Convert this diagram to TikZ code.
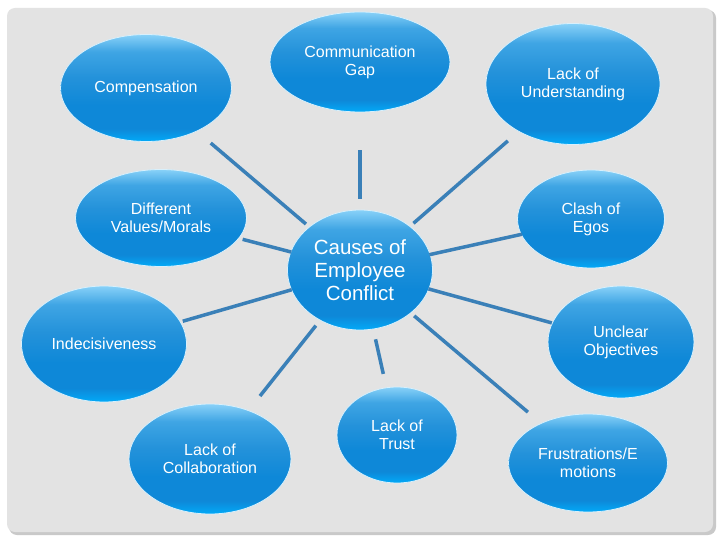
\documentclass[tikz,border=0pt]{standalone}
\usepackage{fontspec}
\setmainfont{Liberation Sans}
\usetikzlibrary{shapes.geometric}
\definecolor{bgc}{HTML}{E3E3E3}
\definecolor{shadc}{HTML}{C9C9C9}
\definecolor{linec}{HTML}{3A80B8}
\definecolor{topc}{HTML}{88D1F8}
\definecolor{upc}{HTML}{3FA5E4}
\definecolor{midc}{HTML}{2492DA}
\definecolor{lowc}{HTML}{0E88D8}
\definecolor{botc}{HTML}{02AAF8}
\definecolor{rimc}{HTML}{D8F0FC}
\pgfdeclareverticalshading{bubbleshade}{100bp}{color(0bp)=(botc); color(25bp)=(botc); color(31bp)=(lowc); color(42bp)=(lowc); color(55bp)=(midc); color(67bp)=(upc); color(75bp)=(topc); color(100bp)=(topc)}
\tikzset{
  bubble/.style={ellipse, shading=bubbleshade, draw=rimc, line width=0.8pt, inner sep=0pt,
    text=white, align=center, font=\fontsize{16}{18}\selectfont},
  hub/.style={bubble, font=\fontsize{20.5}{23}\selectfont},
  conn/.style={draw=linec, line width=3.5pt, shorten <=71pt}
}
\begin{document}
\begin{tikzpicture}[x=1pt,y=-1pt]
\useasboundingbox (0,0) rectangle (720,540);
\fill[white] (0,0) rectangle (720,540);
\fill[shadc, rounded corners=8pt] (9,10) rectangle (716,535);
\fill[bgc, rounded corners=8pt] (7,8) rectangle (713,532);

\node[hub, minimum width=145pt, minimum height=120pt] (c) at (360,270) {Causes of\\Employee\\Conflict};

\node[bubble, minimum width=171pt, minimum height=107pt] (comp) at (146,88) {Compensation};
\node[bubble, minimum width=180pt, minimum height=100pt] (gap) at (360,62) {Communication\\Gap};
\node[bubble, minimum width=174pt, minimum height=121pt] (lou) at (573,84) {Lack of\\Understanding};
\node[bubble, minimum width=171pt, minimum height=97pt] (dv) at (161,218) {Different\\Values/Morals};
\node[bubble, minimum width=147pt, minimum height=98pt] (ego) at (591,219) {Clash of\\Egos};
\node[bubble, minimum width=165pt, minimum height=116pt] (ind) at (104,344) {Indecisiveness};
\node[bubble, minimum width=146pt, minimum height=112pt] (uo) at (621,342) {Unclear\\Objectives};
\node[bubble, minimum width=162pt, minimum height=110pt] (col) at (210,459) {Lack of\\Collaboration};
\node[bubble, minimum width=120pt, minimum height=96pt] (trust) at (397,435) {Lack of\\Trust};
\node[bubble, minimum width=159pt, minimum height=98pt] (fru) at (588,463) {Frustrations/E\\motions};

\draw[conn, shorten >=85pt] (c.center) -- (comp.center);
\draw[conn, shorten >=88pt] (c.center) -- (gap.center);
\draw[conn, shorten >=86.5pt] (c.center) -- (lou.center);
\draw[conn, shorten >=84.4pt] (c.center) -- (dv.center);
\draw[conn, shorten >=70.6pt] (c.center) -- (ego.center);
\draw[conn, shorten >=82pt] (c.center) -- (ind.center);
\draw[conn, shorten >=71.8pt] (c.center) -- (uo.center);
\draw[conn, shorten >=80.4pt] (c.center) -- (col.center);
\draw[conn, shorten >=62.6pt] (c.center) -- (trust.center);
\draw[conn, shorten >=78.7pt] (c.center) -- (fru.center);
\end{tikzpicture}
\end{document}
